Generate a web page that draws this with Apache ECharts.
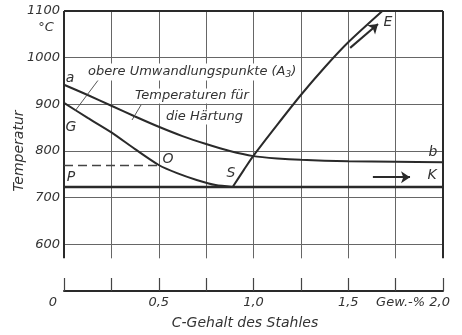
<!DOCTYPE html>
<html><head><meta charset="utf-8">
<script src="https://cdn.jsdelivr.net/npm/echarts@6/dist/echarts.min.js"></script>
<style>html,body{margin:0;padding:0;background:#fff}#c{width:462px;height:335px}</style>
</head><body><div id="c"></div>
<script>
// ---- tick labels ----
const xTickValues = [0, 0.5, 1.0, 1.5, 2.0];
const xTickLabels = ['0', '0,5', '1,0', '1,5', 'Gew.-% 2,0'];
const yTickValues = [600, 700, 800, 900, 1000, 1100];
const yTickLabels = ['600', '700', '800', '900', '1000', '1100'];
const gridX = [0.25, 0.5, 0.75, 1.0, 1.25, 1.5, 1.75];

// ---- curve a–b (Temperaturen für die Härtung) ----
const abC = [0, 0.125, 0.25, 0.375, 0.5, 0.625, 0.75, 0.875, 1.0, 1.125, 1.25, 1.5, 1.75, 2.0];
const abT = [942, 920, 897, 874, 852, 832, 815, 800, 789, 784, 781, 778, 777, 776];
// ---- curve G–S (A3) ----
const gsC = [0, 0.125, 0.25, 0.375, 0.5, 0.6, 0.7, 0.8, 0.89];
const gsT = [903, 871, 840, 804, 770, 752, 738, 727, 723];
// ---- curve S–E ----
const seC = [0.89, 0.95, 1.0, 1.125, 1.25, 1.375, 1.5, 1.68];
const seT = [723, 760, 790, 856, 920, 979, 1033, 1100];
// ---- line P–K ----
const pkC = [0, 2.0];
const pkT = [723, 723];
// ---- dashed line to O ----
const doC = [0, 0.5];
const doT = [769, 769];

const zip = (a, b) => a.map((v, i) => [v, b[i]]);
const FONT = 'DejaVu Sans';
const INK = '#2a2a2a';
const TXT = '#333';

const chart = echarts.init(document.getElementById('c'), null, {renderer: 'canvas'});

const curve = (data, extra) => Object.assign({
  type: 'line', data: data, smooth: 0.25, symbol: 'none',
  lineStyle: {color: INK, width: 2}, silent: true, z: 5
}, extra || {});

function txt(text, x, y, opts) {
  opts = opts || {};
  return {
    type: 'text', x: x, y: y, z: 20,
    style: Object.assign({
      text: text, fill: TXT, fontFamily: FONT, fontStyle: 'italic', fontSize: 13,
      align: 'left', verticalAlign: 'middle'
    }, opts)
  };
}

const option = {
  animation: false,
  backgroundColor: '#fff',
  grid: {left: 64, top: 11, width: 379, height: 280, containLabel: false, outerBoundsMode: 'none'},
  xAxis: {
    type: 'value', min: 0, max: 2, interval: 0.25,
    name: 'C-Gehalt des Stahles', nameLocation: 'middle', nameGap: 25, nameMoveOverlap: false,
    nameTextStyle: {fontFamily: FONT, fontStyle: 'italic', fontSize: 14, color: TXT, padding: [0, 17, 0, 0]},
    axisLine: {show: true, lineStyle: {color: INK, width: 2}},
    axisTick: {show: true, inside: true, length: 13, lineStyle: {color: '#444', width: 1.2}},
    splitLine: {show: false},
    axisLabel: {
      show: true, margin: 5, color: TXT, fontFamily: FONT, fontStyle: 'italic', fontSize: 13,
      showMinLabel: true, showMaxLabel: true,
      formatter: function (v) {
        const i = xTickValues.findIndex(t => Math.abs(t - v) < 1e-9);
        if (i < 0) return '';
        if (i === 0) return '{z|' + xTickLabels[i] + '}';
        if (i === xTickValues.length - 1) return '{m|' + xTickLabels[i] + '}';
        return xTickLabels[i];
      },
      rich: {
        z: {fontFamily: FONT, fontStyle: 'italic', fontSize: 13, color: TXT, padding: [0, 22, 0, 0]},
        m: {fontFamily: FONT, fontStyle: 'italic', fontSize: 13, color: TXT, padding: [0, 60, 0, 0]}
      }
    }
  },
  yAxis: {
    type: 'value', min: 500, max: 1100, interval: 100,
    name: 'Temperatur', nameLocation: 'middle', nameGap: 38, nameMoveOverlap: false,
    nameTextStyle: {fontFamily: FONT, fontStyle: 'italic', fontSize: 14, color: TXT},
    axisLine: {show: false}, axisTick: {show: false},
    splitLine: {show: true, lineStyle: {color: '#666', width: 1}},
    axisLabel: {
      show: true, margin: 4, color: TXT, fontFamily: FONT, fontStyle: 'italic', fontSize: 13,
      formatter: function (v) {
        const i = yTickValues.indexOf(v);
        return i < 0 ? '' : yTickLabels[i];
      }
    }
  },
  series: [
    // grid verticals and frame
    {
      type: 'line', data: [], silent: true, z: 1,
      markLine: {
        silent: true, symbol: ['none', 'none'], label: {show: false}, animation: false,
        lineStyle: {color: '#666', width: 1, type: 'solid'},
        data: gridX.map(x => [{coord: [x, 570]}, {coord: [x, 1100]}])
      }
    },
    {
      type: 'line', data: [], silent: true, z: 6,
      markLine: {
        silent: true, symbol: ['none', 'none'], label: {show: false}, animation: false,
        lineStyle: {color: INK, width: 2, type: 'solid'},
        data: [
          [{coord: [0, 570]}, {coord: [0, 1100]}],
          [{coord: [2, 570]}, {coord: [2, 1100]}],
          [{coord: [0, 1100]}, {coord: [2, 1100]}]
        ]
      }
    },
    curve(zip(abC, abT)),
    curve(zip(gsC, gsT)),
    curve(zip(seC, seT)),
    curve(zip(pkC, pkT), {smooth: false, lineStyle: {color: INK, width: 2.4}}),
    curve(zip(doC, doT), {smooth: false, lineStyle: {color: '#444', width: 1.6, type: [9, 5]}}),
    // arrows
    {
      type: 'line', data: [], silent: true, z: 7,
      markLine: {
        silent: true, symbol: ['none', 'arrow'], symbolSize: 9, label: {show: false}, animation: false,
        lineStyle: {color: INK, width: 2, type: 'solid'},
        data: [
          [{coord: [1.51, 1021]}, {coord: [1.657, 1072]}],
          [{coord: [1.63, 744]}, {coord: [1.826, 744]}]
        ]
      }
    }
  ],
  graphic: [
    txt('°C', 46, 28, {align: 'center'}),
    txt('a', 70, 78, {align: 'center', fontSize: 14}),
    txt('obere Umwandlungspunkte (A{s|3})', 86, 72, {
      backgroundColor: '#fff', padding: [1, 2],
      rich: {s: {fontFamily: FONT, fontStyle: 'italic', fontSize: 9, fill: TXT, padding: [6, 0, 0, 0]}}
    }),
    txt('Temperaturen für', 133, 96, {backgroundColor: '#fff', padding: [1, 2]}),
    txt('die Härtung', 164, 117, {backgroundColor: '#fff', padding: [1, 2]}),
    txt('G', 71, 127, {align: 'center', fontSize: 14}),
    txt('O', 168, 159, {align: 'center', fontSize: 14}),
    txt('S', 231, 173, {align: 'center', fontSize: 14}),
    txt('P', 71, 177, {align: 'center', fontSize: 14}),
    txt('b', 433, 152, {align: 'center', fontSize: 14}),
    txt('K', 432, 175, {align: 'center', fontSize: 14}),
    txt('E', 388, 22, {align: 'center', fontSize: 14}),
    {type: 'line', z: 19, shape: {x1: 99, y1: 79, x2: 75, y2: 111}, style: {stroke: '#444', lineWidth: 0.9}},
    {type: 'line', z: 19, shape: {x1: 141, y1: 105, x2: 132, y2: 120}, style: {stroke: '#444', lineWidth: 0.9}}
  ]
};
chart.setOption(option);
</script>
</body></html>
